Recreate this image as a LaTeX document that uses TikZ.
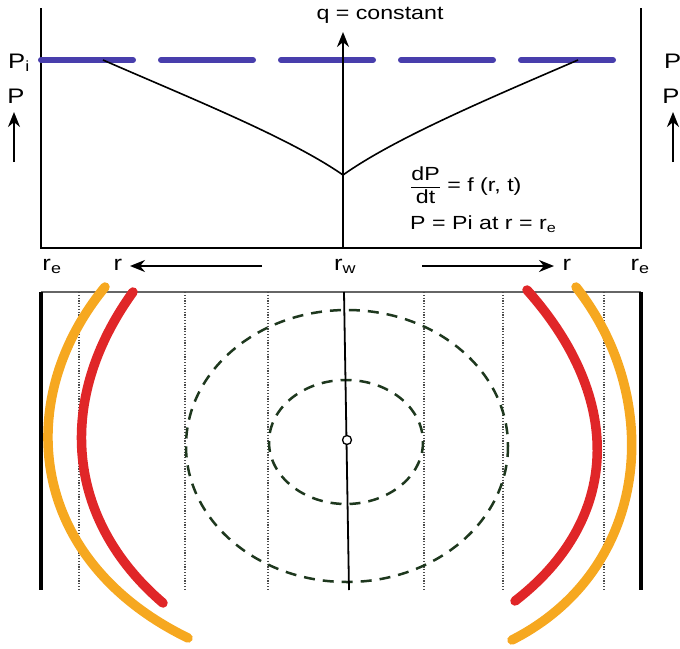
\documentclass[tikz,border=0pt]{standalone}
\usepackage{fontspec}
\setmainfont[FakeStretch=1.22]{Liberation Sans}
\usetikzlibrary{arrows.meta}
\definecolor{pblue}{RGB}{72,62,172}
\definecolor{pred}{RGB}{224,38,40}
\definecolor{porange}{RGB}{246,168,32}
\definecolor{pgreen}{RGB}{30,56,30}
\begin{document}
\begin{tikzpicture}[x=1pt,y=-1pt,
  lbl/.style={inner sep=0pt,font=\fontsize{19}{22}\selectfont},
  big/.style={inner sep=0pt,font=\fontsize{21}{24}\selectfont},
  axis/.style={line width=2pt,black},
  ptr/.style={line width=2pt,-{Stealth[length=15pt,width=12pt]}},
  front/.style={line width=9.5pt,line cap=round},
  grid/.style={line width=1.2pt,black!70,dash pattern=on 1.2pt off 1.6pt},
  ring/.style={line width=2.5pt,pgreen,dash pattern=on 11pt off 8pt}]
\useasboundingbox (0,0) rectangle (680,648);
% ---------- top panel ----------
\coordinate (tl) at (41,8);
\coordinate (bl) at (41,248);
\coordinate (tr) at (641,8);
\coordinate (br) at (641,248);
\coordinate (wb) at (343,248);
\coordinate (wt) at (343,32);
\coordinate (bs) at (41,60);
\coordinate (be) at (618,60);
\coordinate (cl) at (103,60);
\coordinate (cm) at (343,175);
\coordinate (cr) at (578,60);
\draw[axis] (tl) -- (bl) -- (br) -- (tr);
\draw[line width=6pt,pblue,dash pattern=on 92pt off 28pt,line cap=round] (bs) -- (be);
\draw[line width=1.6pt] (cl) .. controls (190,98) and (290,138) .. (cm)
      .. controls (395,138) and (490,98) .. (cr);
\draw[ptr] (wb) -- (wt);
\node[lbl,anchor=south] (q) at (380,24) {q = constant};
\node[big] (pi) at (19,63) {P\textsubscript{i}};
\node[big] (p) at (16,96) {P};
\coordinate (pa1) at (14,162);
\coordinate (pa2) at (14,112);
\draw[ptr] (pa1) -- (pa2);
\node[big,anchor=west] (pi2) at (664,63) {P\textsubscript{i}};
\node[big] (p2) at (671,96) {P};
\coordinate (pb1) at (673,162);
\coordinate (pb2) at (673,112);
\draw[ptr] (pb1) -- (pb2);
\node[lbl,anchor=west] (eq1) at (410,185) {$\displaystyle{\mbox{dP}\over\mbox{dt}}$ = f (r, t)};
\node[lbl,anchor=west] (eq2) at (410,224) {P = Pi at r = r\textsubscript{e}};
% ---------- axis labels ----------
\node[big] (rel) at (52,266) {r\textsubscript{e}};
\node[big] (rl) at (118,265) {r};
\node[big] (rw) at (345,266) {r\textsubscript{w}};
\node[big] (rr) at (567,265) {r};
\node[big] (rer) at (640,266) {r\textsubscript{e}};
\coordinate (al1) at (262,266);
\coordinate (al2) at (130,266);
\coordinate (ar1) at (422,266);
\coordinate (ar2) at (554,266);
\draw[ptr] (al1) -- (al2);
\draw[ptr] (ar1) -- (ar2);
% ---------- bottom panel ----------
\coordinate (gl) at (41,292);
\coordinate (gr) at (641,292);
\draw[line width=1.4pt,black!60] (gl) -- (gr);
\foreach \x/\n in {79/a,185/b,268/c,424/d,503/e,604/f}{
  \coordinate (\n1) at (\x,292);
  \coordinate (\n2) at (\x,590);
  \draw[grid] (\n1) -- (\n2);
}
\coordinate (lb1) at (41,292);
\coordinate (lb2) at (41,590);
\coordinate (rb1) at (641,292);
\coordinate (rb2) at (641,590);
\draw[line width=4pt] (lb1) -- (lb2);
\draw[line width=4pt] (rb1) -- (rb2);
\coordinate (c0) at (347,440);
\draw[ring] (346,442) ellipse [x radius=77, y radius=62];
\draw[ring] (347,446) ellipse [x radius=161, y radius=136];
\coordinate (w1) at (344,292);
\coordinate (w2) at (349,590);
\draw[line width=1.8pt] (w1) -- (w2);
\node[circle,draw,fill=white,line width=1.3pt,minimum size=9pt,inner sep=0pt] (well) at (c0) {};
% fronts
\draw[front,porange] (105,287) .. controls (12,400) and (28,560) .. (188,638);
\draw[front,pred] (133,292) .. controls (55,400) and (66,520) .. (163,603);
\draw[front,pred] (527,290) .. controls (625,400) and (620,520) .. (515,601);
\draw[front,porange] (576,287) .. controls (665,400) and (650,570) .. (512,640);
\end{tikzpicture}
\end{document}
